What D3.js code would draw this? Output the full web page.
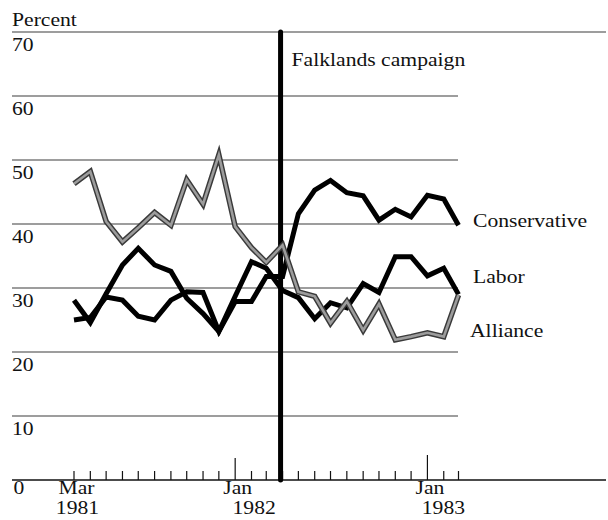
<!DOCTYPE html>
<html><head><meta charset="utf-8">
<script src="https://cdn.jsdelivr.net/npm/d3@7"></script>
<style>
html,body{margin:0;padding:0;background:#fff}
svg{display:block}
text{font-family:"Liberation Serif","Times New Roman",serif;fill:#111;font-size:18.5px}
</style>
</head><body><svg id="c" width="608" height="520"></svg>
<script>
// ---- data (monthly, Mar 1981 .. Mar 1983) ----
const startMonth = new Date(1981, 2, 1);
const endMonth = new Date(1983, 2, 1);
const conservative = [25.0,25.4,28.6,28.1,25.6,25.0,28.1,29.4,29.3,23.2,27.9,27.9,31.8,31.8,41.6,45.3,46.8,44.9,44.4,40.6,42.3,41.1,44.5,43.9,39.8];
const labor        = [28.1,24.6,29.1,33.6,36.2,33.6,32.6,28.4,26.0,23.2,28.7,34.1,33.1,29.6,28.5,25.2,27.7,26.9,30.7,29.3,34.9,34.9,31.9,33.1,29.0];
const alliance     = [46.3,48.2,40.4,37.2,39.4,41.8,39.8,46.9,43.1,50.8,39.6,36.3,34.0,36.7,29.4,28.7,24.5,27.9,23.4,27.5,21.9,22.4,23.0,22.4,28.9];
const seriesNames  = ["Conservative","Labor","Alliance"];
const yTicks       = [0,10,20,30,40,50,60,70];
const xLabelDates  = [new Date(1981,2,1), new Date(1982,0,1), new Date(1983,0,1)];
const xLabelMonths = ["Mar","Jan","Jan"];
const xLabelYears  = ["1981","1982","1983"];
const campaignDate = new Date(1982,3,1);
const campaignLabel = "Falklands campaign";
const yTitle = "Percent";

const months = d3.timeMonth.range(startMonth, d3.timeMonth.offset(endMonth,1));

const svg = d3.select("#c");
const x = d3.scaleTime().domain([startMonth, endMonth]).range([74, 458.5]);
const y = d3.scaleLinear().domain([0,70]).range([480, 32]);
const SX = 1.17;

function txt(px, py, s, anchor){
  return svg.append("text")
    .attr("transform", `translate(${px},${py}) scale(${SX},1)`)
    .attr("text-anchor", anchor || "start")
    .text(s);
}

// gridlines
svg.append("g").selectAll("line").data(yTicks).join("line")
  .attr("x1", 12)
  .attr("x2", d => (d === 0 || d === 70) ? 606 : 458)
  .attr("y1", d => y(d)).attr("y2", d => y(d))
  .attr("stroke", d => d === 0 ? "#111" : "#3c3c3c")
  .attr("stroke-width", d => d === 0 ? 1.6 : 1.1);

// y labels
yTicks.forEach(v => {
  if (v === 0) txt(13.5, y(0) + 13.5, String(v));
  else txt(12, y(v) + 19, String(v));
});
txt(12, 25.5, yTitle);

// x ticks (monthly)
svg.append("g").selectAll("line").data(months).join("line")
  .attr("x1", d => x(d)).attr("x2", d => x(d))
  .attr("y1", y(0))
  .attr("y2", d => d.getMonth() === 0 ? y(0) - (d.getFullYear() === 1983 ? 25 : 22) : y(0) - 9)
  .attr("stroke", "#111").attr("stroke-width", 1.2);

xLabelDates.forEach((d,i) => {
  txt(x(d) + 2.5, y(0) + 13.5, xLabelMonths[i], "middle");
  const dy = i === 0 ? 3.5 : (i === 1 ? 19 : 16);
  txt(x(d) + dy, y(0) + 33.5, xLabelYears[i], "middle");
});

// campaign line
svg.append("line")
  .attr("x1", x(campaignDate) - 2).attr("x2", x(campaignDate) - 2)
  .attr("y1", y(70)).attr("y2", y(0))
  .attr("stroke", "#000").attr("stroke-width", 5).attr("stroke-linecap", "round");
txt(x(campaignDate) + 9, 66, campaignLabel);

const line = d3.line().x((d,i) => x(months[i])).y(d => y(d));

// black series
[conservative, labor].forEach(s => {
  svg.append("path").attr("d", line(s))
    .attr("fill","none").attr("stroke","#000").attr("stroke-width",5)
    .attr("stroke-linejoin","miter").attr("stroke-miterlimit",4);
});
// alliance (gray hatched look)
svg.append("path").attr("d", line(alliance))
  .attr("fill","none").attr("stroke","#3a3a3a").attr("stroke-width",5.5)
  .attr("stroke-linejoin","miter").attr("stroke-miterlimit",4);
svg.append("path").attr("d", line(alliance))
  .attr("fill","none").attr("stroke","#9c9c9c").attr("stroke-width",2.6)
  .attr("stroke-linejoin","miter").attr("stroke-miterlimit",4);

// series labels
txt(473, 227, seriesNames[0]);
txt(473, 283, seriesNames[1]);
txt(470, 337, seriesNames[2]);
</script>
</body></html>
